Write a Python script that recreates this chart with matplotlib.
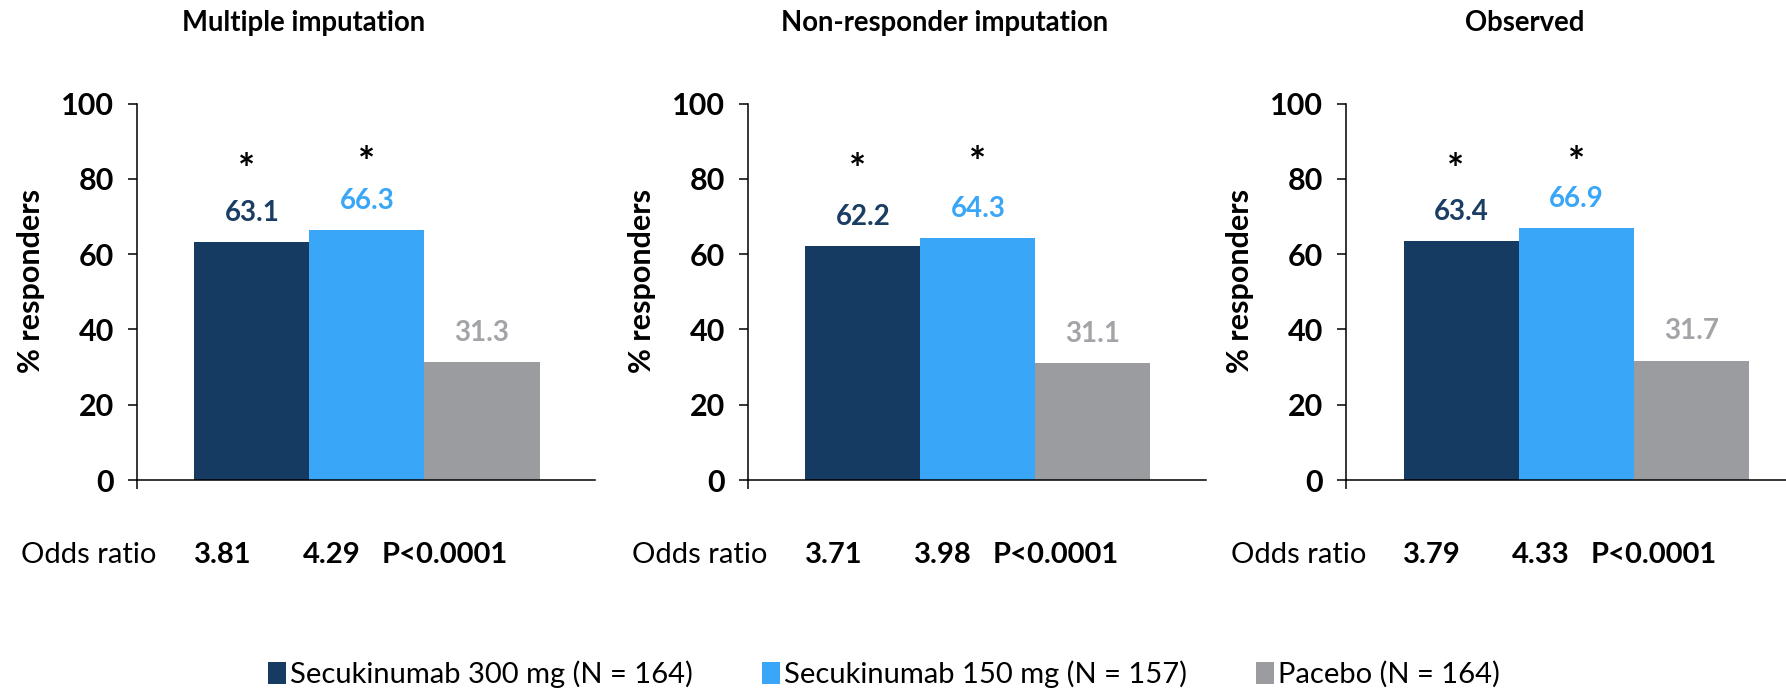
import matplotlib
matplotlib.use("Agg")
import matplotlib.pyplot as plt
from matplotlib.patches import Patch

plt.rcParams['font.family'] = ['Lato', 'DejaVu Sans']

# ---- data -------------------------------------------------------------
panel_titles = ["Multiple imputation", "Non-responder imputation", "Observed"]
sec300 = [63.1, 62.2, 63.4]
sec150 = [66.3, 64.3, 66.9]
placebo = [31.3, 31.1, 31.7]
odds300 = ["3.81", "3.71", "3.79"]
odds150 = ["4.29", "3.98", "4.33"]
p_values = ["P<0.0001", "P<0.0001", "P<0.0001"]
series_labels = ["Secukinumab 300 mg (N = 164)",
                 "Secukinumab 150 mg (N = 157)",
                 "Pacebo (N = 164)"]
significant = [True, True, False]
yticks = [0, 20, 40, 60, 80, 100]

# ---- styling ------------------------------------------------------------
bar_colors = ["#153B62", "#3AA6F8", "#9B9CA0"]
label_colors = ["#1A3D63", "#3AA6F8", "#A3A4A8"]

W, H = 1786, 689
fig = plt.figure(figsize=(W / 100, H / 100), dpi=100)

axes_left_px = [136.8, 747.7, 1346.0]
title_x_px = [304, 945, 1525]
ax_w_px, ax_h_px, ax_bottom_px = 458.0, 376.5, 480.0
asterisk_y = [82.0, 83.8]

fs = 21
handles = [Patch(facecolor=c, edgecolor="none") for c in bar_colors]
for i, title in enumerate(panel_titles):
    ax = fig.add_axes([axes_left_px[i] / W, 1 - ax_bottom_px / H,
                       ax_w_px / W, ax_h_px / H])
    vals = [sec300[i], sec150[i], placebo[i]]
    xs = list(range(len(vals)))
    ax.bar(xs, vals, width=1.0, color=bar_colors, linewidth=0, zorder=2)

    ax.set_xlim(-1.0, 2.98)
    ax.set_ylim(0, 100)
    ax.set_yticks(yticks)
    ax.set_yticklabels([str(t) for t in yticks], fontweight="bold", fontsize=22)
    ax.set_xticks([-1.0])
    ax.set_xticklabels([""])
    ax.tick_params(axis="both", direction="out", length=6.5, width=1.1,
                   color="black")
    ax.tick_params(axis="y", pad=10)
    for side in ("top", "right"):
        ax.spines[side].set_visible(False)
    for side in ("left", "bottom"):
        ax.spines[side].set_linewidth(1.1)
        ax.spines[side].set_color("black")
        ax.spines[side].set_zorder(3)

    ax.set_ylabel("% responders", fontweight="bold", fontsize=22)
    ax.yaxis.set_label_coords(-0.2, 0.53)

    for x, v, c in zip(xs, vals, label_colors):
        ax.annotate(f"{v:.1f}", (x, v), xytext=(0, 21),
                    textcoords="offset points", ha="center", va="center",
                    color=c, fontweight="bold", fontsize=20)
    for x, flag in zip(xs, significant):
        if flag:
            ax.text(x - 0.05 if x == 0 else x, asterisk_y[x], "*",
                    ha="center", va="center", fontsize=29,
                    fontweight="bold", color="black")

    yrow = -0.198
    ax.text(-0.252, yrow, "Odds ratio", transform=ax.transAxes,
            ha="left", va="center", fontsize=fs)
    ax.text(0.188, yrow, odds300[i], transform=ax.transAxes,
            ha="center", va="center", fontsize=fs, fontweight="bold")
    ax.text(0.426, yrow, odds150[i], transform=ax.transAxes,
            ha="center", va="center", fontsize=fs, fontweight="bold")
    ax.text(0.534, yrow, p_values[i], transform=ax.transAxes,
            ha="left", va="center", fontsize=fs, fontweight="bold")

    fig.text(title_x_px[i] / W, 1 - 23 / H, title, ha="center", va="center",
             fontsize=19.8, fontweight="bold")

fig.legend(handles, series_labels, loc="center",
           bbox_to_anchor=(0.495, 1 - 674 / H), ncol=3, frameon=False,
           fontsize=21, handlelength=0.62, handleheight=0.8,
           handletextpad=0.15, columnspacing=2.35)

fig.savefig("out.png", dpi=100, facecolor="white")
